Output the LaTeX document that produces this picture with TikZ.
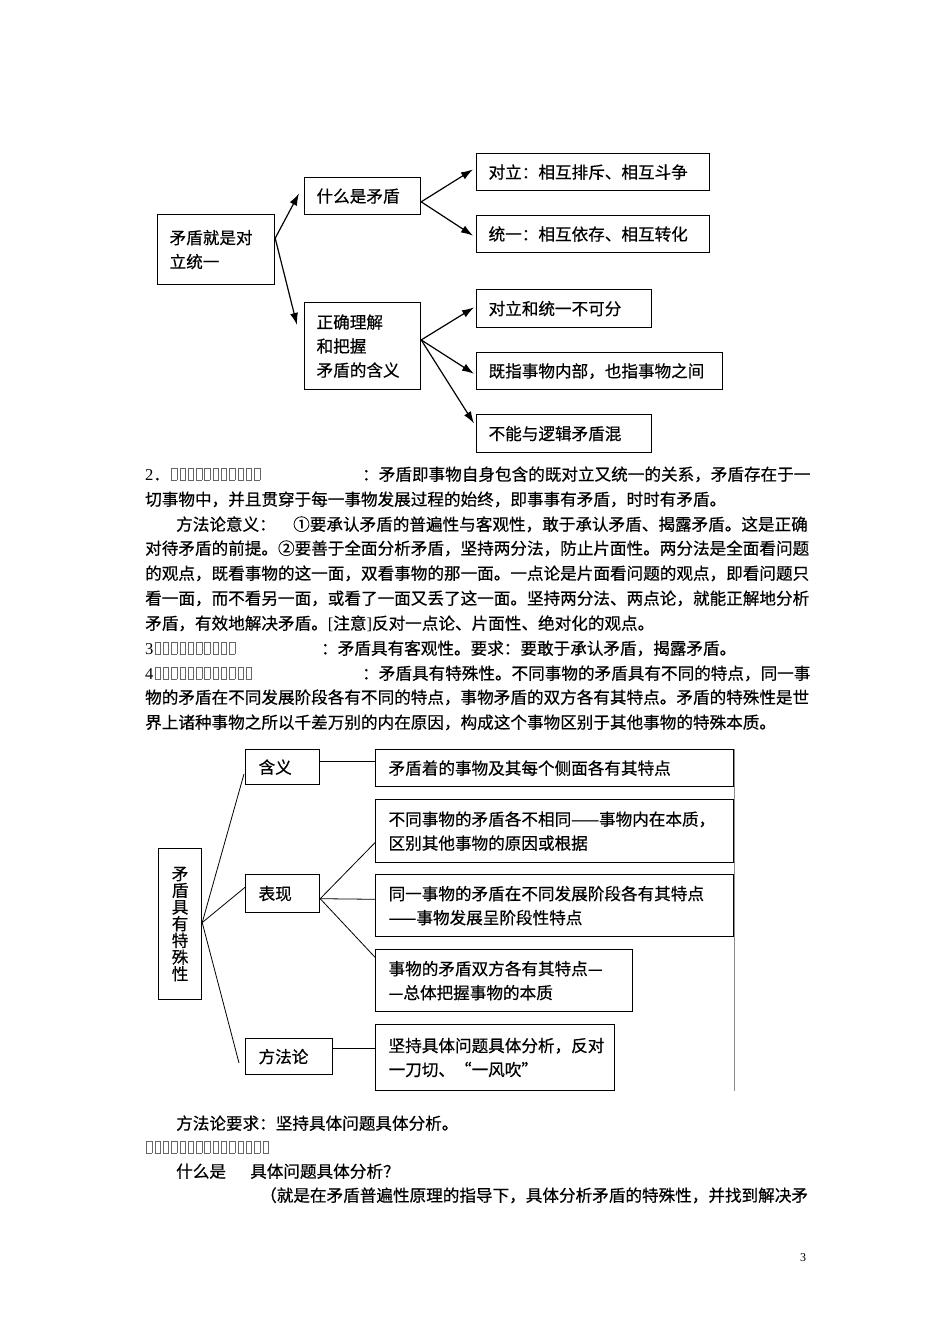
\documentclass[tikz,border=0pt]{standalone}
\usepackage{fontspec}
\setmainfont{Noto Sans CJK SC}[UprightFeatures={FakeBold=0.5}]
\newfontfamily\lat{Liberation Serif}
\usetikzlibrary{calc,arrows.meta}
\newcommand\tf{\hbox to 8.3pt{\hss\color{black!60}\vbox{\hrule height0.6pt\hbox{\vrule width0.6pt height11.8pt\kern4.8pt\vrule width0.6pt}\hrule height0.6pt}\hss}}
\newcommand\jline[2]{{\XeTeXlinebreaklocale "zh"\relax\XeTeXlinebreakskip=0pt plus 4pt\relax\makebox[#1][s]{#2}}}
\newcommand\nobrk{\XeTeXlinebreaklocale ""\relax}
\begin{document}
\begin{tikzpicture}[x=1pt,y=-1pt,
  font=\fontsize{16.6}{24}\selectfont,
  box/.style={draw, line width=1.2pt, anchor=north west, inner xsep=12pt, inner ysep=0pt, align=left, execute at begin node=\nobrk},
  txt/.style={anchor=west, inner sep=0pt, text height=14pt, text depth=3pt},
  arr/.style={-{Latex[length=12pt,width=8pt]}, line width=1.2pt},
  ln/.style={line width=0.8pt}]
\fill[white] (0,0) rectangle (950,1344);
\useasboundingbox (0,0) rectangle (950,1344);

% ---------- top diagram ----------
\node[box, text width=93pt, minimum height=70pt] (A) at (157,214) {矛盾就是对\\立统一};
\node[box, text width=92pt, minimum height=37pt] (B) at (304,177) {什么是矛盾};
\node[box, text width=209pt, minimum height=37pt] (C) at (476,153) {对立：相互排斥、相互斗争};
\node[box, text width=209pt, minimum height=37pt] (D) at (476,215) {统一：相互依存、相互转化};
\node[box, text width=92pt, minimum height=87pt] (E) at (304,302) {正确理解\\和把握\\矛盾的含义};
\node[box, text width=151pt, minimum height=38pt] (F) at (476,289) {对立和统一不可分};
\node[box, text width=222pt, minimum height=37pt] (G) at (476,352) {既指事物内部，也指事物之间};
\node[box, text width=151pt, minimum height=38pt] (H) at (476,414) {不能与逻辑矛盾混};

\draw[arr] ($(A.north east)!0.34!(A.south east)$) -- ($(B.north west)!0.43!(B.south west)+(-5,0)$);
\draw[arr] ($(A.north east)!0.34!(A.south east)$) -- ($(E.north west)!0.26!(E.south west)+(-7,0)$);
\draw[arr] ($(B.north east)!0.65!(B.south east)$) -- ($(C.north west)!0.43!(C.south west)+(-3,0)$);
\draw[arr] ($(B.north east)!0.65!(B.south east)$) -- ($(D.north west)!0.54!(D.south west)+(-3,0)$);
\draw[arr] ($(E.north east)!0.43!(E.south east)$) -- ($(F.north west)!0.47!(F.south west)+(-2,0)$);
\draw[arr] ($(E.north east)!0.43!(E.south east)$) -- ($(G.north west)!0.57!(G.south west)+(-2,0)$);
\draw[arr] ($(E.north east)!0.43!(E.south east)$) -- ($(H.north west)!0.24!(H.south west)+(-2,0)$);

% ---------- body text ----------
\node[txt] (t1a) at (145,475) {{\lat 2}．\tf\tf\tf\tf\tf\tf\tf\tf\tf\tf\tf};
\node[txt] (t1b) at (362,475) {\jline{446pt}{：矛盾即事物自身包含的既对立又统一的关系，矛盾存在于一}};
\node[txt] (t2) at (145,500) {切事物中，并且贯穿于每一事物发展过程的始终，即事事有矛盾，时时有矛盾。};
\node[txt] (t3a) at (176,525) {方法论意义：};
\node[txt] (t3b) at (293,525) {\jline{515pt}{①要承认矛盾的普遍性与客观性，敢于承认矛盾、揭露矛盾。这是正确}};
\node[txt] (t4) at (145,549) {\jline{663pt}{对待矛盾的前提。②要善于全面分析矛盾，坚持两分法，防止片面性。两分法是全面看问题}};
\node[txt] (t5) at (145,574) {\jline{663pt}{的观点，既看事物的这一面，双看事物的那一面。一点论是片面看问题的观点，即看问题只}};
\node[txt] (t6) at (145,599) {\jline{663pt}{看一面，而不看另一面，或看了一面又丢了这一面。坚持两分法、两点论，就能正解地分析}};
\node[txt] (t7) at (145,624) {矛盾，有效地解决矛盾。{\lat [}注意{\lat ]}反对一点论、片面性、绝对化的观点。};
\node[txt] (t8a) at (145,649) {{\lat 3}\tf\tf\tf\tf\tf\tf\tf\tf\tf\tf};
\node[txt] (t8b) at (321,649) {：矛盾具有客观性。要求：要敢于承认矛盾，揭露矛盾。};
\node[txt] (t9a) at (145,674) {{\lat 4}\tf\tf\tf\tf\tf\tf\tf\tf\tf\tf\tf\tf};
\node[txt] (t9b) at (362,674) {\jline{446pt}{：矛盾具有特殊性。不同事物的矛盾具有不同的特点，同一事}};
\node[txt] (t10) at (145,698) {\jline{663pt}{物的矛盾在不同发展阶段各有不同的特点，事物矛盾的双方各有其特点。矛盾的特殊性是世}};
\node[txt] (t11) at (145,723) {界上诸种事物之所以千差万别的内在原因，构成这个事物区别于其他事物的特殊本质。};

% ---------- bottom diagram ----------
\node[box, inner xsep=0pt, text width=43pt, align=center, minimum height=151pt,
      font=\fontsize{16.6}{16.7}\selectfont] (root) at (158,848) {矛\\盾\\具\\有\\特\\殊\\性};
\node[box, inner xsep=13pt, text width=48pt, minimum height=35pt] (hy) at (245,749) {含义};
\node[box, inner xsep=13pt, text width=48pt, minimum height=38pt] (bx) at (245,874) {表现};
\node[box, inner xsep=13pt, text width=61pt, minimum height=36pt] (ff) at (245,1038) {方法论};
\node[box, inner xsep=13pt, text width=332pt, minimum height=37pt] (R1) at (375,749) {矛盾着的事物及其每个侧面各有其特点};
\node[box, inner xsep=13pt, text width=332pt, minimum height=63pt] (R2) at (375,799) {不同事物的矛盾各不相同——事物内在本质，\\区别其他事物的原因或根据};
\node[box, inner xsep=13pt, text width=332pt, minimum height=62pt] (R3) at (375,874) {同一事物的矛盾在不同发展阶段各有其特点\\——事物发展呈阶段性特点};
\node[box, inner xsep=13pt, text width=231pt, minimum height=62pt] (R4) at (375,949) {事物的矛盾双方各有其特点—\\—总体把握事物的本质};
\node[box, inner xsep=13pt, text width=213pt, minimum height=66pt] (R5) at (375,1024) {坚持具体问题具体分析，反对\\一刀切、“一风吹”};

\coordinate (rp) at ($(root.north east)!0.49!(root.south east)$);
\draw[ln] (rp) -- ($(hy.north west)!0.69!(hy.south west)+(-1,0)$);
\draw[ln] (rp) -- ($(bx.north west)!0.34!(bx.south west)$);
\draw[ln] (rp) -- ($(ff.north west)!0.67!(ff.south west)+(-6,0)$);
\coordinate (hp) at ($(hy.north east)!0.34!(hy.south east)$);
\draw[ln] (hp) -- (R1.west |- hp);
\coordinate (bp) at ($(bx.north east)!0.63!(bx.south east)$);
\draw[ln] (bp) -- ($(R2.north west)!0.68!(R2.south west)$);
\draw[ln] (bp) -- ($(R3.north west)!0.4!(R3.south west)$);
\draw[ln] (bp) -- ($(R4.north west)!0.13!(R4.south west)$);
\coordinate (fp) at ($(ff.north east)!0.28!(ff.south east)$);
\draw[ln] (fp) -- (R5.west |- fp);
\draw[line width=0.8pt, black!45] (R1.north east) -- (R1.north east |- R5.south);

% ---------- bottom text ----------
\node[txt] (b1) at (176,1124) {方法论要求：坚持具体问题具体分析。};
\node[txt] (b2) at (145,1148) {\tf\tf\tf\tf\tf\tf\tf\tf\tf\tf\tf\tf\tf\tf\tf};
\node[txt] (b3a) at (176,1172) {什么是};
\node[txt] (b3b) at (250,1172) {具体问题具体分析？};
\node[txt] (b4) at (260,1196) {\jline{548pt}{（就是在矛盾普遍性原理的指导下，具体分析矛盾的特殊性，并找到解决矛}};
\node[inner sep=0pt, font=\lat\fontsize{12}{12}\selectfont] (pg) at (803,1258) {3};
\end{tikzpicture}
\end{document}
